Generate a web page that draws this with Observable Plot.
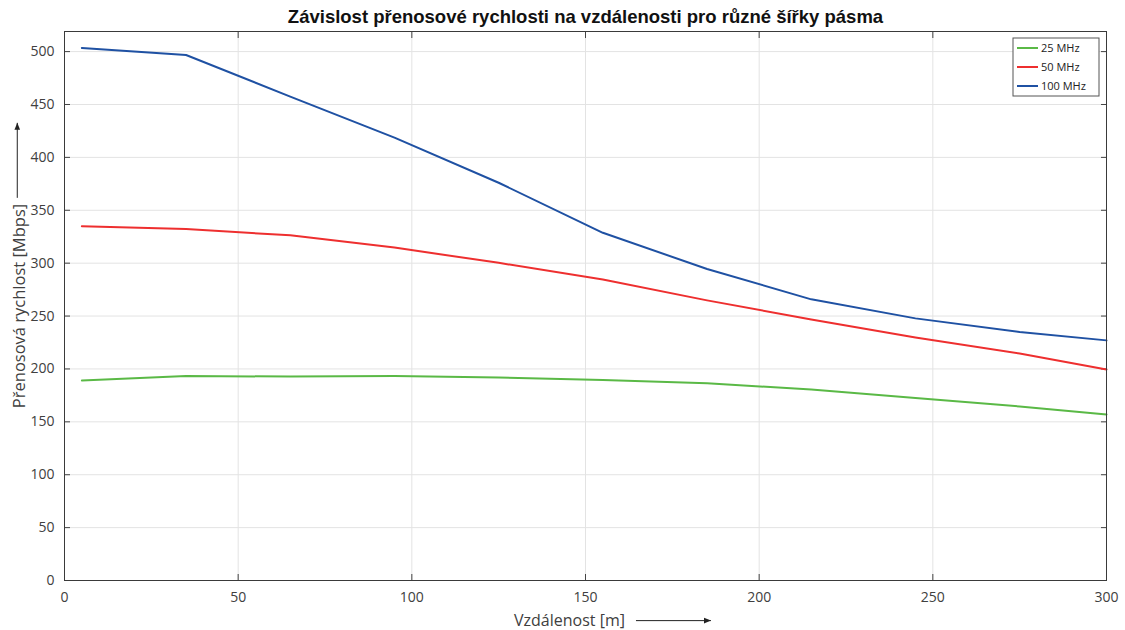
<!DOCTYPE html>
<html>
<head>
<meta charset="utf-8">
<script src="https://cdn.jsdelivr.net/npm/d3@7"></script>
<script src="https://cdn.jsdelivr.net/npm/@observablehq/plot@0.6"></script>
<style>
  body { margin: 0; background: #fff; }
  #chart svg { display: block; }
</style>
</head>
<body>
<div id="chart"></div>
<script>
// ---- data ----
const distances = [5, 35, 65, 95, 125, 155, 185, 215, 245, 275, 300];
const rate25MHz  = [189, 193.3, 192.8, 193.3, 191.9, 189.5, 186.5, 180.5, 172.5, 164.5, 157];
const rate50MHz  = [335, 332.3, 326.3, 314.7, 300.3, 284.5, 264.8, 246.7, 229.8, 214.5, 199.5];
const rate100MHz = [503.5, 496.8, 457.5, 418.7, 376, 328.7, 294.5, 265.8, 247.8, 235, 227];
const seriesNames = ["25 MHz", "50 MHz", "100 MHz"];
const seriesColors = ["#5ab946", "#ee2f2f", "#1f51a3"];
const xTicks = [0, 50, 100, 150, 200, 250, 300];
const yTicks = [0, 50, 100, 150, 200, 250, 300, 350, 400, 450, 500];
const titleText = "Závislost přenosové rychlosti na vzdálenosti pro různé šířky pásma";
const xLabel = "Vzdálenost [m]";
const yLabel = "Přenosová rychlost [Mbps]";

const seriesValues = [rate25MHz, rate50MHz, rate100MHz];
const rows = [];
seriesNames.forEach((name, s) => {
  distances.forEach((d, i) => rows.push({series: name, x: d, y: seriesValues[s][i]}));
});

const tickFont = "'Open Sans', 'Noto Sans', sans-serif";

const chart = Plot.plot({
  width: 1125,
  height: 630,
  marginLeft: 64,
  marginRight: 19,
  marginTop: 31,
  marginBottom: 50,
  style: {fontFamily: tickFont, fontSize: "14px", color: "#404040", background: "#fff"},
  x: {domain: [0, 300], label: null},
  y: {domain: [0, 519], label: null},
  color: {domain: seriesNames, range: seriesColors},
  marks: [
    Plot.gridX(xTicks, {stroke: "#e3e3e3", strokeOpacity: 1, strokeWidth: 1}),
    Plot.gridY(yTicks, {stroke: "#e3e3e3", strokeOpacity: 1, strokeWidth: 1}),
    Plot.axisX(xTicks, {anchor: "bottom", label: null, tickSize: 0, tickPadding: 12, fontSize: 14, fill: "#404040"}),
    Plot.axisY(yTicks, {anchor: "left", label: null, tickSize: 0, tickPadding: 10, fontSize: 14, fill: "#404040"}),
    Plot.axisX(xTicks, {anchor: "bottom", label: null, tickSize: -6, tickFormat: () => "", stroke: "#444"}),
    Plot.axisX(xTicks, {anchor: "top", label: null, tickSize: -6, tickFormat: () => "", stroke: "#444"}),
    Plot.axisY(yTicks, {anchor: "left", label: null, tickSize: -6, tickFormat: () => "", stroke: "#444"}),
    Plot.axisY(yTicks, {anchor: "right", label: null, tickSize: -6, tickFormat: () => "", stroke: "#444"}),
    Plot.line(rows, {x: "x", y: "y", z: "series", stroke: "series", strokeWidth: 2}),
    Plot.frame({stroke: "#3a3a3a", strokeWidth: 1}),
    Plot.text([titleText], {frameAnchor: "top", lineAnchor: "middle", dy: -14, text: d => d, fontFamily: "'Liberation Sans', Arial, sans-serif", fontWeight: "bold", fontSize: 18.5, fill: "#111"}),
    Plot.text([xLabel], {frameAnchor: "bottom", textAnchor: "middle", lineAnchor: "middle", dy: 40, dx: -16, text: d => d, fontSize: 16, fill: "#404040"}),
    Plot.text([yLabel], {frameAnchor: "left", textAnchor: "middle", lineAnchor: "middle", dx: -45, rotate: -90, text: d => d, fontSize: 16.5, fill: "#404040"})
  ]
});

document.getElementById("chart").appendChild(chart);

// ---- decorations: axis arrows and legend ----
const svg = d3.select(chart);
const defs = svg.append("defs");
defs.append("marker")
  .attr("id", "ah").attr("viewBox", "0 0 10 10").attr("refX", 10).attr("refY", 5)
  .attr("markerWidth", 8).attr("markerHeight", 7).attr("markerUnits", "userSpaceOnUse")
  .attr("orient", "auto")
  .append("path").attr("d", "M0,1 L10,5 L0,9 Z").attr("fill", "#222");

const sr = chart.getBoundingClientRect();
function findText(str) {
  return svg.selectAll("text").filter(function() { return this.textContent === str; }).node();
}
// x label arrow
const xl = findText(xLabel);
if (xl) {
  const r = xl.getBoundingClientRect();
  const yy = r.top - sr.top + r.height / 2 + 1;
  const x0 = r.right - sr.left + 11;
  svg.append("line").attr("x1", x0).attr("x2", x0 + 75)
    .attr("y1", yy).attr("y2", yy).attr("stroke", "#222").attr("stroke-width", 1).attr("marker-end", "url(#ah)");
}
// y label arrow
const yl = findText(yLabel);
if (yl) {
  const r = yl.getBoundingClientRect();
  const xx = r.left - sr.left + r.width / 2 - 1;
  const top = r.top - sr.top;
  svg.append("line").attr("x1", xx).attr("x2", xx)
    .attr("y1", top - 6).attr("y2", top - 81)
    .attr("stroke", "#222").attr("stroke-width", 1).attr("marker-end", "url(#ah)");
}

// legend
const lg = svg.append("g").attr("transform", "translate(1013,38)");
lg.append("rect").attr("width", 86).attr("height", 58).attr("fill", "#fff").attr("stroke", "#555").attr("stroke-width", 1);
seriesNames.forEach((name, i) => {
  const yy = 10 + i * 19;
  lg.append("line").attr("x1", 4).attr("x2", 25).attr("y1", yy).attr("y2", yy)
    .attr("stroke", seriesColors[i]).attr("stroke-width", 2);
  lg.append("text").attr("x", 28).attr("y", yy).attr("dy", "0.35em")
    .attr("text-anchor", "start")
    .attr("font-family", tickFont).attr("font-size", 11).attr("fill", "#222").text(name);
});
</script>
</body>
</html>
